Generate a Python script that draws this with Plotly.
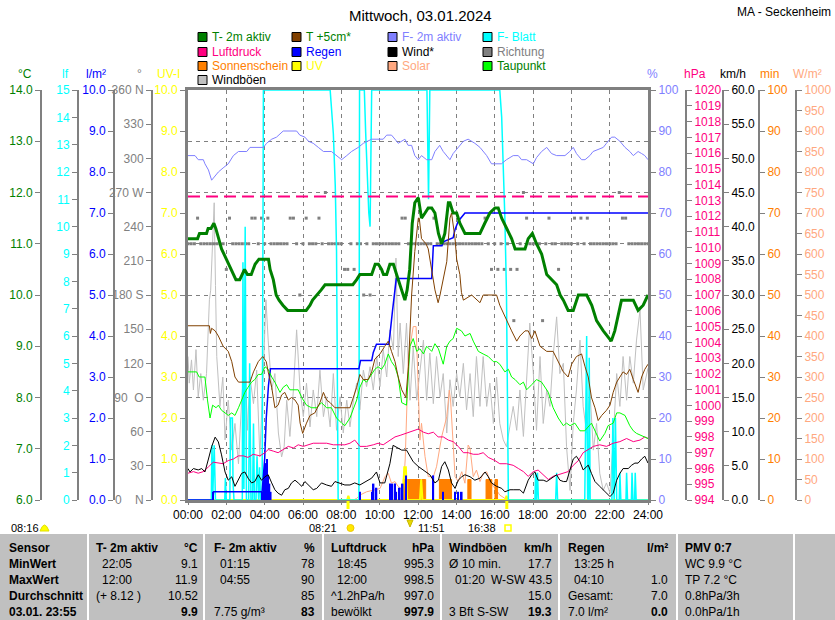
import plotly.graph_objects as go

# ---------------------------------------------------------------
# Data (times = minutes after midnight)
# ---------------------------------------------------------------
T2M_MIN = [0, 30, 36, 58, 63, 72, 81, 87, 96, 105, 120, 135, 150, 162, 177, 186, 198, 210, 222, 234,
           252, 257, 267, 276, 285, 297, 312, 370, 382, 390, 405, 417, 429, 516, 528, 538, 575, 586, 596, 606,
           612, 622, 632, 643, 653, 664, 679, 686, 694, 702, 710, 721, 731, 742, 752, 763, 773, 784, 794, 804,
           815, 820, 830, 841, 851, 867, 914, 929, 945, 961, 971, 982, 997, 1013, 1024, 1055, 1065, 1078, 1091, 1107,
           1123, 1138, 1154, 1165, 1175, 1190, 1206, 1222, 1248, 1264, 1279, 1300, 1325, 1336, 1357, 1394, 1409, 1425, 1440]
T2M_C = [11.1, 11.1, 11.2, 11.2, 11.3, 11.3, 11.4, 11.3, 11.1, 10.9, 10.7, 10.5, 10.3, 10.3, 10.5, 10.4, 10.4, 10.6, 10.7, 10.7,
         10.7, 10.5, 10.3, 10.0, 9.9, 9.8, 9.7, 9.7, 9.8, 9.9, 10.0, 10.1, 10.2, 10.2, 10.3, 10.4, 10.4, 10.6, 10.6, 10.5,
         10.4, 10.4, 10.6, 10.6, 10.4, 10.2, 9.9, 10.1, 10.5, 11.4, 11.8, 11.9, 11.5, 11.6, 11.7, 11.7, 11.6, 11.2, 11.0, 11.2,
         11.8, 11.8, 11.6, 11.6, 11.4, 11.2, 11.2, 11.4, 11.6, 11.7, 11.7, 11.5, 11.3, 11.1, 10.9, 10.9, 11.1, 11.2, 11.0, 10.8,
         10.4, 10.3, 10.2, 10.0, 9.9, 9.7, 9.7, 10.0, 10.0, 9.8, 9.5, 9.3, 9.1, 9.3, 9.9, 9.9, 9.7, 9.8, 10.0]

T5_MIN = [0, 67, 70, 74, 85, 95, 110, 126, 137, 147, 158, 173, 194, 205, 220, 234, 245, 251, 262, 272,
          282, 293, 303, 314, 324, 335, 345, 351, 359, 371, 382, 397, 413, 424, 434, 445, 460, 507, 518, 528,
          538, 549, 564, 575, 585, 601, 616, 627, 637, 648, 658, 669, 682, 690, 700, 710, 721, 724, 731, 745,
          752, 763, 773, 783, 789, 810, 820, 825, 830, 836, 841, 851, 856, 862, 888, 914, 924, 966, 976, 997,
          1013, 1029, 1039, 1055, 1065, 1076, 1086, 1102, 1123, 1143, 1159, 1175, 1190, 1201, 1216, 1232, 1243, 1253, 1263, 1274,
          1284, 1295, 1310, 1321, 1331, 1342, 1352, 1362, 1373, 1383, 1394, 1409, 1420, 1430, 1440]
T5_C = [9.4, 9.4, 9.25, 9.35, 9.3, 9.2, 9.0, 8.9, 8.7, 8.4, 8.3, 8.3, 8.3, 8.5, 8.7, 8.8, 8.7, 8.5, 8.2, 7.8,
        7.85, 8.05, 8.1, 7.95, 8.0, 7.95, 7.85, 7.5, 7.3, 7.5, 7.65, 7.7, 7.9, 8.1, 7.95, 7.9, 7.8, 7.8, 8.0, 8.2,
        8.45, 8.35, 8.35, 8.5, 8.75, 8.85, 9.0, 9.1, 8.9, 8.7, 8.4, 8.15, 8.0, 8.6, 10.0, 10.85, 11.5, 11.5, 11.1, 11.0,
        10.9, 10.5, 10.1, 9.85, 10.0, 10.65, 11.5, 11.6, 11.35, 11.1, 10.7, 10.4, 10.05, 9.9, 10.0, 9.85, 10.0, 10.0, 9.8, 9.5,
        9.3, 9.1, 9.2, 9.3, 9.3, 9.15, 9.3, 9.0, 8.9, 8.9, 8.7, 8.5, 8.4, 8.65, 8.8, 8.85, 8.6, 8.4, 8.0, 7.8,
        7.55, 7.65, 7.75, 7.85, 8.1, 8.3, 8.4, 8.5, 8.45, 8.55, 8.35, 8.1, 8.4, 8.55, 8.65]

TP_MIN = [0, 27, 35, 53, 61, 69, 77, 88, 95, 105, 116, 126, 137, 147, 158, 168, 178, 188, 199, 209,
          220, 230, 241, 251, 262, 272, 288, 298, 309, 319, 330, 345, 356, 371, 387, 403, 418, 434, 449, 465,
          481, 491, 507, 517, 528, 538, 549, 559, 570, 585, 595, 606, 616, 627, 637, 648, 658, 669, 684, 695,
          705, 716, 726, 737, 747, 763, 773, 784, 799, 810, 820, 830, 841, 856, 867, 883, 893, 909, 924, 940,
          956, 966, 976, 992, 1003, 1013, 1024, 1039, 1050, 1060, 1076, 1091, 1107, 1117, 1128, 1143, 1159, 1175, 1185, 1196,
          1211, 1227, 1242, 1263, 1279, 1289, 1305, 1315, 1331, 1342, 1352, 1368, 1383, 1394, 1404, 1420, 1440]
TP_C = [8.5, 8.5, 8.4, 8.4, 7.95, 7.6, 7.85, 7.8, 7.85, 7.75, 7.7, 7.65, 7.7, 7.65, 7.8, 7.95, 8.1, 8.2, 8.3, 8.35,
        8.45, 8.45, 8.6, 8.55, 8.4, 8.3, 8.1, 8.2, 8.25, 8.15, 8.15, 8.15, 8.0, 7.85, 7.8, 7.8, 7.9, 7.8, 7.8, 7.6,
        7.5, 7.45, 7.6, 7.75, 7.95, 8.2, 8.35, 8.3, 8.4, 8.55, 8.6, 8.55, 8.65, 8.85, 8.7, 8.6, 8.4, 7.9, 7.85, 9.0,
        9.15, 8.9, 8.95, 8.85, 9.0, 8.9, 9.05, 8.95, 8.65, 9.0, 9.1, 9.15, 9.35, 9.3, 9.2, 9.25, 9.1, 8.9, 8.85, 8.8,
        8.7, 8.7, 8.65, 8.5, 8.55, 8.4, 8.35, 8.25, 8.3, 8.15, 8.25, 8.35, 8.3, 8.2, 8.1, 7.8, 7.6, 7.45, 7.5, 7.45,
        7.5, 7.35, 7.35, 7.5, 7.3, 7.15, 7.3, 7.45, 7.5, 7.7, 7.7, 7.65, 7.45, 7.35, 7.3, 7.25, 7.2]

F2M_MIN = [0, 22, 32, 48, 53, 64, 74, 85, 95, 110, 126, 142, 158, 184, 194, 236, 246, 262, 277, 298,
           340, 350, 366, 377, 392, 408, 424, 449, 465, 481, 497, 512, 533, 549, 575, 611, 622, 637, 648, 658,
           679, 689, 700, 710, 721, 731, 747, 763, 773, 788, 799, 809, 820, 830, 846, 862, 877, 898, 914, 935,
           950, 981, 997, 1018, 1034, 1044, 1060, 1081, 1091, 1107, 1123, 1138, 1154, 1180, 1195, 1206, 1216, 1232, 1243, 1258,
           1268, 1284, 1300, 1310, 1326, 1336, 1352, 1368, 1383, 1394, 1409, 1420, 1430, 1440]
F2M_PCT = [84, 84, 83, 83, 82, 80.5, 78, 79, 80, 81, 82, 84, 85, 85, 86, 86, 87, 88, 88.5, 90,
           90, 89, 88.5, 87.5, 87, 86, 85, 85, 84, 83, 84, 85, 86, 87, 88, 88, 89, 89, 88, 87,
           88, 86.5, 86.5, 84, 83, 84, 83, 83, 85, 86.5, 85, 84, 83, 84.5, 86, 87.5, 88, 87, 86, 84,
           82, 82, 83, 84, 84, 83, 83, 82, 83.5, 85, 86, 84.5, 84, 84, 85, 86, 84.5, 83, 83, 84,
           85, 85.5, 86, 87, 88.5, 88.5, 87.5, 86, 85, 84, 85, 84.5, 84, 83]

P_MIN = [0, 17, 32, 48, 64, 79, 110, 126, 142, 158, 173, 188, 204, 225, 241, 251, 267, 282, 298, 314,
         330, 345, 361, 377, 392, 413, 434, 455, 476, 491, 507, 522, 538, 559, 580, 595, 611, 632, 648, 664,
         690, 705, 721, 737, 752, 768, 783, 799, 815, 830, 846, 862, 877, 893, 909, 924, 940, 961, 976, 997,
         1018, 1034, 1050, 1065, 1081, 1096, 1112, 1128, 1143, 1159, 1175, 1190, 1206, 1222, 1237, 1253, 1269, 1289, 1310, 1331,
         1352, 1373, 1394, 1415, 1430, 1440]
P_HPA = [995.7, 995.8, 995.7, 995.8, 996.1, 996.4, 996.3, 996.5, 996.6, 996.8, 996.8, 996.7, 996.9, 996.8, 997.0, 997.2, 997.1, 997.0, 997.2, 997.4,
         997.3, 997.5, 997.4, 997.5, 997.6, 997.6, 997.6, 997.5, 997.5, 997.5, 997.6, 997.8, 997.4, 997.4, 997.5, 997.6, 997.5, 997.8, 998.0, 998.1,
         998.3, 998.4, 998.5, 998.3, 998.2, 998.3, 998.0, 998.0, 997.8, 997.7, 997.4, 997.0, 997.0, 996.9, 996.9, 997.0, 996.7, 996.5, 996.3, 996.3,
         996.2, 996.0, 995.8, 995.5, 995.8, 995.9, 995.6, 995.3, 995.5, 995.6, 995.7, 995.8, 996.2, 996.5, 997.0, 997.2, 997.4, 997.5, 997.4, 997.6,
         997.7, 997.9, 997.7, 997.8, 998.0, 997.9]
NORMAL_HPA = 1013.25

WIND_MIN = [0, 6, 17, 32, 43, 53, 64, 74, 85, 95, 105, 116, 126, 137, 147, 158, 168, 178, 188, 199,
            209, 220, 230, 241, 251, 262, 272, 282, 293, 303, 314, 324, 335, 345, 356, 366, 382, 392, 403, 418,
            434, 449, 460, 476, 491, 507, 522, 538, 559, 575, 590, 601, 616, 632, 642, 658, 669, 684, 695, 705,
            721, 737, 747, 757, 773, 784, 794, 804, 815, 825, 836, 846, 857, 867, 883, 898, 914, 930, 940, 950,
            966, 982, 992, 1008, 1018, 1039, 1050, 1065, 1076, 1086, 1096, 1112, 1123, 1138, 1154, 1164, 1175, 1185, 1196, 1206,
            1216, 1227, 1237, 1253, 1263, 1274, 1289, 1305, 1321, 1331, 1342, 1352, 1362, 1378, 1389, 1399, 1409, 1420, 1430, 1440]
WIND_KMH = [4.6, 4.1, 4.6, 4.4, 4.6, 4.1, 6.0, 7.8, 9.2, 8.5, 6.6, 4.1, 2.9, 3.4, 2.0, 2.9, 3.9, 4.1, 3.2, 2.5,
            2.7, 3.7, 2.9, 3.4, 3.7, 2.5, 1.5, 1.0, 0.7, 1.5, 1.7, 2.5, 2.9, 2.5, 2.0, 2.7, 2.0, 1.5, 1.7, 2.5,
            2.2, 2.0, 2.7, 2.5, 2.2, 2.2, 2.5, 2.2, 2.7, 3.2, 4.1, 2.5, 2.5, 5.3, 8.0, 7.6, 7.3, 7.3, 6.4, 5.6,
            4.9, 4.4, 4.0, 3.7, 2.5, 2.9, 4.9, 5.6, 4.4, 2.5, 1.7, 2.9, 3.4, 3.7, 3.4, 2.9, 3.2, 4.1, 3.4, 2.5,
            2.0, 1.7, 1.2, 1.5, 1.5, 1.5, 1.0, 2.9, 3.7, 4.1, 2.9, 2.9, 2.7, 3.2, 3.7, 2.9, 2.7, 2.7, 4.4, 6.0,
            6.4, 5.6, 4.4, 5.1, 3.9, 2.7, 2.0, 1.2, 0.5, 1.0, 2.9, 3.9, 4.6, 4.6, 5.1, 5.4, 5.4, 6.0, 6.4, 5.4]

GUST_MIN = [0, 4, 11, 17, 25, 32, 40, 48, 58, 67, 71, 77, 82, 86, 90, 100, 109, 116, 126, 137,
            147, 158, 168, 178, 186, 194, 205, 215, 225, 236, 244, 251, 262, 272, 283, 293, 301, 309, 319, 330,
            340, 351, 361, 371, 382, 392, 403, 413, 424, 434, 445, 455, 465, 476, 486, 497, 507, 518, 528, 538,
            549, 559, 570, 580, 591, 601, 611, 622, 632, 643, 651, 658, 664, 674, 684, 695, 705, 716, 726, 737,
            747, 757, 768, 778, 789, 799, 810, 820, 830, 841, 851, 862, 872, 883, 893, 903, 914, 924, 935, 945,
            956, 966, 976, 987, 997, 1008, 1018, 1029, 1039, 1050, 1060, 1070, 1081, 1091, 1102, 1112, 1123, 1133, 1143, 1154,
            1164, 1175, 1185, 1196, 1206, 1216, 1227, 1237, 1248, 1258, 1269, 1279, 1289, 1300, 1310, 1321, 1331, 1342, 1352, 1362,
            1373, 1383, 1394, 1404, 1415, 1425, 1440]
GUST_KMH = [21.0, 17.1, 20.5, 16.1, 22.0, 15.1, 18.5, 14.6, 18.5, 29.3, 30.7, 39.0, 43.5, 31.4, 21.0, 13.7, 18.0, 8.8, 14.6, 7.3,
            11.2, 5.3, 14.6, 21.0, 10.2, 18.0, 14.1, 19.0, 6.3, 19.0, 29.3, 23.4, 16.1, 18.5, 9.8, 6.3, 7.8, 14.6, 9.3, 16.1,
            24.9, 16.1, 12.2, 17.1, 10.7, 16.1, 12.2, 19.0, 12.2, 15.1, 10.7, 18.5, 10.2, 15.1, 9.8, 14.6, 10.7, 14.6, 17.1, 13.2,
            19.0, 16.6, 19.5, 16.1, 21.0, 16.6, 22.0, 18.0, 24.9, 22.0, 35.4, 21.0, 25.9, 18.5, 25.9, 14.6, 22.4, 14.6, 18.5, 23.4,
            14.6, 21.5, 14.1, 21.0, 15.1, 18.5, 9.8, 17.6, 13.7, 18.5, 15.1, 20.0, 13.2, 18.5, 12.2, 21.0, 13.7, 21.0, 13.7, 17.1,
            11.2, 18.0, 11.2, 8.8, 7.8, 11.2, 13.7, 10.2, 16.1, 9.3, 18.5, 25.9, 18.5, 10.2, 21.0, 11.2, 16.1, 13.7, 21.0, 26.8,
            18.5, 20.0, 7.8, 1.4, 11.2, 16.1, 23.4, 13.7, 9.8, 16.1, 7.3, 11.2, 3.9, 1.4, 2.5, 1.0, 8.8, 18.5, 13.7, 21.0,
            14.6, 21.0, 17.1, 23.4, 27.8, 16.1, 19.3]

# wind direction, one sample every 10 minutes (00:00 .. 24:00)
DIR_DEG = [225, 225, 225, 247.5, 225, 225, 225, 225, 225, 225, 225, 225,
           202.5, 247.5, 225, 225, 225, 225, 225, 225, 247.5, 247.5, 225, 247.5,
           225, 247.5, 225, 225, 225, 225, 225, 225, 247.5, 247.5, 225, 180,
           225, 247.5, 225, 225, 225, 247.5, 225, 270, 225, 225, 225, 225,
           225, 202.5, 202.5, 225, 202.5, 225, 225, 180, 225, 180, 225, 225,
           225, 225, 225, 225, 225, 225, 225, 247.5, 247.5, 225, 225, 225,
           225, 225, 225, 225, 225, 247.5, 225, 225, 225, 225, 225, 225,
           225, 225, 225, 225, 225, 225, 225, 225, 225, 247.5, 225, 202.5,
           225, 202.5, 225, 202.5, 225, 202.5, 157.5, 202.5, 225, 270, 247.5, 225,
           225, 225, 225, 157.5, 225, 247.5, 225, 225, 202.5, 225, 225, 225,
           225, 247.5, 225, 247.5, 225, 247.5, 225, 225, 225, 225, 225, 225,
           225, 225, 225, 270, 247.5, 247.5, 225, 225, 225, 225, 225, 225,
           225]
DIR_STEP_MIN = 10

RAIN_SUM_MIN = [0, 78, 80, 232, 240, 245, 252, 258, 535, 540, 575, 580, 590, 629, 640, 652, 763, 768, 795, 799,
                830, 836, 846, 857, 867, 1440]
RAIN_SUM = [0, 0, 0.2, 0.2, 1.0, 2.0, 2.8, 3.2, 3.2, 3.4, 3.4, 3.6, 3.8, 3.8, 4.6, 5.4, 5.4, 6.2, 6.2, 6.3,
            6.4, 6.6, 6.8, 6.9, 7.0, 7.0]
RAIN_BAR_MIN = [79, 234, 239, 243, 247, 251, 255, 259, 538, 576, 581, 590, 632, 640, 648, 652, 663, 672, 683, 768,
                799, 836, 846, 857]
RAIN_BAR = [0.2, 0.2, 0.6, 0.9, 1.0, 0.6, 0.4, 0.2, 0.2, 0.2, 0.4, 0.3, 0.4, 0.4, 0.4, 0.2, 0.3, 0.4, 0.6, 0.6,
            0.2, 0.2, 0.2, 0.2]

SUN_MIN = [0, 674, 728, 732, 744, 787, 825, 876, 886, 933, 951, 961, 969, 1440]
SUN_VAL = [0, 5, 0, 5, 0, 5, 0, 5, 0, 5, 0, 5, 0, 0]

UV_MIN = [0, 498, 502, 506, 672, 677, 682, 686, 726, 730, 734, 993, 997, 1001, 1440]
UV_VAL = [0, 0, 0.1, 0, 0, 0.8, 0.8, 0, 0, 0.5, 0, 0, 0.1, 0, 0]

SOLAR_MIN = [0, 518, 528, 538, 559, 580, 601, 617, 627, 637, 648, 658, 674, 680, 686, 690, 705, 714, 721, 726,
             731, 742, 752, 768, 778, 794, 810, 818, 822, 828, 836, 846, 857, 867, 877, 883, 893, 903, 914, 924,
             935, 945, 956, 966, 976, 992, 1008, 1440]
SOLAR_W = [0, 0, 4, 12, 20, 24, 28, 57, 65, 41, 45, 33, 24, 100, 268, 350, 423, 423, 268, 146,
           187, 106, 57, 57, 81, 154, 203, 268, 244, 163, 57, 45, 69, 41, 134, 126, 57, 73, 45, 65,
           69, 49, 33, 24, 12, 4, 0, 0]

LF_MIN = [0, 73, 75, 78, 82, 86, 115, 117, 120, 131, 133, 139, 141, 144, 170, 172, 175, 179, 183, 190,
          193, 197, 202, 205, 208, 213, 216, 219, 221, 224, 227, 232, 236, 445, 450, 455, 461, 465, 470, 535,
          537, 552, 556, 560, 566, 570, 572, 575, 748, 753, 757, 976, 982, 987, 992, 997, 1003, 1086, 1088, 1091,
          1094, 1097, 1151, 1154, 1157, 1242, 1245, 1248, 1251, 1254, 1256, 1259, 1327, 1330, 1334, 1338, 1342, 1350, 1352, 1355,
          1371, 1373, 1376, 1388, 1390, 1393, 1398, 1400, 1403, 1440]
LF_VAL = [0, 0, 2.0, 0.3, 2.0, 0, 0, 0.8, 0, 0, 3.0, 3.0, 0.6, 0, 0, 8.7, 0.4, 10.0, 0, 0,
          5.0, 0, 0, 2.8, 0, 0, 1.6, 0, 0, 1.2, 0, 0, 15, 15, 14, 13.4, 11.5, 9.1, 0, 0,
          15, 15, 13.5, 12, 10.5, 10, 11.5, 15, 15, 11, 15, 15, 14, 12.1, 10.3, 7.5, 0, 0, 1.0, 0,
          1.0, 0, 0, 1.0, 0, 0, 4.5, 6.0, 0, 0, 5.2, 0, 0, 3.0, 0, 3.0, 0, 0, 1.0, 0,
          0, 1.0, 0, 0, 1.0, 0, 0, 1.0, 0, 0]

DAWN, SUNRISE, NOON, SUNSET = "08:16", "08:21", "11:51", "16:38"

TIME_TICKS = list(range(0, 25, 2))
TIME_LABELS = ["%02d:00" % h for h in TIME_TICKS]
DIR_TICKS = list(range(0, 361, 30))
DIR_LABELS = ["0\u00a0\u00a0\u00a0\u00a0N", "30", "60", "90\u00a0\u00a0O", "120", "150", "180\u00a0S",
              "210", "240", "270\u00a0W", "300", "330", "360\u00a0N"]

LEGEND = [
    [("T- 2m aktiv", "#008000", "#008000"), ("T +5cm*", "#804000", "#008000"),
     ("F- 2m aktiv", "#8080FF", "#8080FF"), ("F- Blatt", "#00FFFF", "#00FFFF")],
    [("Luftdruck", "#FF0080", "#FF0080"), ("Regen", "#0000FF", "#0000FF"),
     ("Wind*", "#000000", "#000000"), ("Richtung", "#808080", "#808080")],
    [("Sonnenschein", "#FF8000", "#FF8000"), ("UV", "#FFFF00", "#FFFF00"),
     ("Solar", "#FFA880", "#FFA880"), ("Taupunkt", "#00FF00", "#008000")],
    [("Windböen", "#C0C0C0", "#000000")],
]

TABLE_ROWS = ["Sensor", "MinWert", "MaxWert", "Durchschnitt", "03.01. 23:55"]
TABLE_COLS = [
    ("T- 2m aktiv", "°C", [("22:05", "9.1"), ("12:00", "11.9"), ("(+ 8.12 )", "10.52"), ("", "9.9")]),
    ("F- 2m aktiv", "%", [("01:15", "78"), ("04:55", "90"), ("", "85"), ("7.75 g/m³", "83")]),
    ("Luftdruck", "hPa", [("18:45", "995.3"), ("12:00", "998.5"), ("^1.2hPa/h", "997.0"), ("bewölkt", "997.9")]),
    ("Windböen", "km/h", [("Ø 10 min.", "17.7"), ("01:20", "W-SW 43.5"), ("", "15.0"), ("3 Bft S-SW", "19.3")]),
    ("Regen", "l/m²", [("13:25 h", ""), ("04:10", "1.0"), ("Gesamt:", "7.0"), ("7.0 l/m²", "0.0")]),
]
PMV_LINES = ["PMV 0:7", "WC 9.9 °C", "TP 7.2 °C", "0.8hPa/3h", "0.0hPa/1h"]

# ---------------------------------------------------------------
FONT = "Liberation Sans, Arial, sans-serif"
W, H = 835, 620
TOP, BOTTOM = 90, 500
GRAY = "#808080"


def hrs(mins):
    return [m / 60 for m in mins]


def hhmm(s):
    h, m = s.split(":")
    return int(h) + int(m) / 60


def fx(px):
    return px / W


def fy(py):
    return (BOTTOM - py) / (BOTTOM - TOP)


fig = go.Figure()


def line(mins, vals, axis, color, width=1.0):
    fig.add_trace(go.Scatter(x=hrs(mins), y=vals, yaxis=axis, mode="lines",
                             line=dict(color=color, width=width), hoverinfo="skip"))


# bottom-most layers first (overlay order follows the axis numbers)
line(GUST_MIN, GUST_KMH, "y", "#C0C0C0")
fig.add_trace(go.Scatter(x=[i * DIR_STEP_MIN / 60 for i in range(len(DIR_DEG))], y=DIR_DEG, yaxis="y2",
                         mode="markers", marker=dict(symbol="square", size=3, color=GRAY, line=dict(width=0)),
                         hoverinfo="skip"))
line(SOLAR_MIN, SOLAR_W, "y3", "#FFA880")
fig.add_trace(go.Scatter(x=hrs(SUN_MIN), y=SUN_VAL, yaxis="y4", mode="lines",
                         line=dict(color="#FF8000", width=1, shape="hv"), fill="tozeroy",
                         fillcolor="#FF8000", hoverinfo="skip"))
line(UV_MIN, UV_VAL, "y5", "#FFFF00", 2)
line(LF_MIN, LF_VAL, "y6", "#00FFFF", 1.5)
fig.add_trace(go.Bar(x=hrs(RAIN_BAR_MIN), y=RAIN_BAR, yaxis="y7", width=5 / 60,
                     marker=dict(color="#0000FF", line=dict(width=0)), hoverinfo="skip"))
line(RAIN_SUM_MIN, RAIN_SUM, "y7", "#0000FF", 1.5)
line(P_MIN, P_HPA, "y8", "#FF0080")
line(WIND_MIN, WIND_KMH, "y9", "#000000")
line(F2M_MIN, F2M_PCT, "y10", "#8080FF")
line(TP_MIN, TP_C, "y11", "#00FF00")
line(T5_MIN, T5_C, "y11", "#804000")
line(T2M_MIN, T2M_C, "y11", "#008000", 3)


def yax(color, rng, dtick=None, fmt=None, side="left", pos=None, anchor="free", lw=2, **kw):
    d = dict(range=rng, side=side, showline=True, linecolor=GRAY, linewidth=lw,
             ticks="outside", ticklen=5, tickcolor=GRAY, tickwidth=1,
             tickfont=dict(color=color, size=12, family=FONT),
             showgrid=False, zeroline=False, fixedrange=True, automargin=False)
    if anchor == "free":
        d.update(anchor="free", position=fx(pos))
    else:
        d.update(anchor=anchor)
    if dtick is not None:
        d.update(dtick=dtick, tick0=rng[0])
    if fmt:
        d["tickformat"] = fmt
    d.update(kw)
    return d


fig.update_layout(
    width=W, height=H, autosize=False, margin=dict(l=0, r=0, t=TOP, b=H - BOTTOM, pad=0, autoexpand=False),
    paper_bgcolor="white", plot_bgcolor="white", showlegend=False,
    font=dict(family=FONT, size=12, color="black"),
    xaxis=dict(domain=[fx(188), fx(648)], range=[0, 24], tickmode="array",
               tickvals=TIME_TICKS, ticktext=TIME_LABELS, showgrid=True, gridcolor=GRAY,
               griddash="4px,4px", gridwidth=1, showline=True, mirror=True, linecolor=GRAY,
               linewidth=3, ticks="outside", ticklen=2, tickcolor=GRAY, zeroline=False,
               tickfont=dict(size=12, color="black"), fixedrange=True, automargin=False),
    yaxis=yax("#000000", [0, 60], 5, ".1f", "right", 723),
    yaxis2=yax(GRAY, [0, 360], side="left", pos=152, overlaying="y",
               tickmode="array", tickvals=DIR_TICKS, ticktext=DIR_LABELS),
    yaxis3=yax("#FFA880", [0, 1000], 50, None, "right", 796, overlaying="y"),
    yaxis4=yax("#FF8000", [0, 100], 10, None, "right", 759, overlaying="y"),
    yaxis5=yax("#FFFF00", [0, 10], 1, ".1f", "left", anchor="x", lw=3, overlaying="y"),
    yaxis6=yax("#00FFFF", [0, 15], 1, None, "left", 78, overlaying="y"),
    yaxis7=yax("#0000FF", [0, 10], 1, ".1f", "left", 114, overlaying="y"),
    yaxis8=yax("#FF0080", [994, 1020], 1, None, "right", 686, overlaying="y"),
    yaxis9=dict(range=[0, 60], visible=False, overlaying="y", anchor="x", fixedrange=True),
    yaxis10=yax("#8080FF", [0, 100], 10, None, "right", anchor="x", lw=3, overlaying="y"),
    yaxis11=yax("#008000", [6, 14], 1, ".1f", "left", 41, overlaying="y",
                showgrid=True, gridcolor=GRAY, griddash="4px,4px", gridwidth=1),
)

shapes = []
annotations = []


def text(x, y, s, color="black", size=12, xanchor="left", bold=False):
    if bold:
        s = "<b>%s</b>" % s
    annotations.append(dict(x=fx(x), y=fy(y), xref="paper", yref="paper", text=s, showarrow=False,
                            xanchor=xanchor, yanchor="middle", borderpad=0,
                            font=dict(color=color, size=size, family=FONT)))


# normal pressure reference line
shapes.append(dict(type="line", xref="x", yref="y8", x0=0, x1=24, y0=NORMAL_HPA, y1=NORMAL_HPA,
                   line=dict(color="#FF0080", width=2, dash="12px,6px")))

# title and station
text(420, 15, "Mittwoch, 03.01.2024", size=15, xanchor="center")
text(832, 12, "MA - Seckenheim", size=12, xanchor="right")

# legend block
LEG_X = [198, 292, 388, 483]
LEG_Y = [37, 52, 66, 80]
for r, row in enumerate(LEGEND):
    for c, (label, sq, tc) in enumerate(row):
        x0, yc = LEG_X[c], LEG_Y[r]
        shapes.append(dict(type="rect", xref="paper", yref="paper", x0=fx(x0), x1=fx(x0 + 9),
                           y0=fy(yc + 4.5), y1=fy(yc - 4.5), fillcolor=sq, line=dict(color="black", width=1)))
        text(x0 + 13, yc, label, color=tc)

# axis unit headers
for x, s, col in [(25, "°C", "#008000"), (65, "lf", "#00FFFF"), (96, "l/m²", "#0000FF"),
                  (139, "°", GRAY), (168, "UV-I", "#FFFF00"), (652, "%", "#8080FF"),
                  (695, "hPa", "#FF0080"), (733, "km/h", "#000000"), (769, "min", "#FF8000"),
                  (807, "W/m²", "#FFA880")]:
    text(x, 74, s, color=col, xanchor="center")

# sun events below the time axis
EVENT_Y = 528
for t in (SUNRISE, SUNSET):
    shapes.append(dict(type="line", xref="x", yref="paper", x0=hhmm(t), x1=hhmm(t),
                       y0=fy(509), y1=fy(501), line=dict(color="#FFFF00", width=3)))
text(10, EVENT_Y, DAWN, size=11)
shapes.append(dict(type="path", xref="paper", yref="paper",
                   path="M %f,%f Q %f,%f %f,%f Z" % (fx(40), fy(531), fx(44.5), fy(519), fx(49), fy(531)),
                   fillcolor="#FFFF00", line=dict(color="#E0E000", width=1)))
text(338, EVENT_Y, SUNRISE, size=11, xanchor="right")
shapes.append(dict(type="circle", xref="paper", yref="paper", x0=fx(347), x1=fx(354),
                   y0=fy(531.5), y1=fy(524.5), fillcolor="#FFE800", line=dict(color="#F0C800", width=1)))
shapes.append(dict(type="path", xref="paper", yref="paper",
                   path="M %f,%f L %f,%f L %f,%f Z" % (fx(407), fy(520), fx(413), fy(520), fx(410), fy(527)),
                   fillcolor="#E8D800", line=dict(color="#C8B800", width=1)))
text(417, EVENT_Y, NOON, size=11)
text(497, EVENT_Y, SUNSET, size=11, xanchor="right")
shapes.append(dict(type="rect", xref="paper", yref="paper", x0=fx(505), x1=fx(511),
                   y0=fy(531), y1=fy(525), line=dict(color="#FFFF00", width=1.5)))

# summary table
shapes.append(dict(type="rect", xref="paper", yref="paper", x0=0, x1=1, y0=fy(620), y1=fy(534),
                   fillcolor="#C0C0C0", line=dict(width=0), layer="below"))
for x in [88, 204, 323, 441, 559, 677, 794]:
    shapes.append(dict(type="line", xref="paper", yref="paper", x0=fx(x), x1=fx(x),
                       y0=fy(620), y1=fy(534), line=dict(color="white", width=2)))

ROW_Y = [548, 564, 580, 596, 612]
COL_L = [95, 213, 330, 448, 567]
COL_R = [199, 316, 435, 553, 669]
for i, s in enumerate(TABLE_ROWS):
    text(8, ROW_Y[i], s, bold=True)
for c, (name, unit, cells) in enumerate(TABLE_COLS):
    text(COL_L[c], ROW_Y[0], name, bold=True)
    text(COL_R[c], ROW_Y[0], unit, bold=True, xanchor="right")
    for r, (left, right) in enumerate(cells):
        last = r == len(cells) - 1
        indent = 6 if (left[:2].isdigit() and ":" in left) else 0
        if left:
            text(COL_L[c] + indent, ROW_Y[r + 1], left)
        if right:
            text(COL_R[c], ROW_Y[r + 1], right, bold=last, xanchor="right")
for r, s in enumerate(PMV_LINES):
    text(684, ROW_Y[r], s, bold=(r == 0))

fig.update_layout(shapes=shapes, annotations=annotations)
fig.write_html("out.html", config={"responsive": False, "displayModeBar": False},
               post_script="document.body.style.margin='0';document.body.style.overflow='hidden';")
